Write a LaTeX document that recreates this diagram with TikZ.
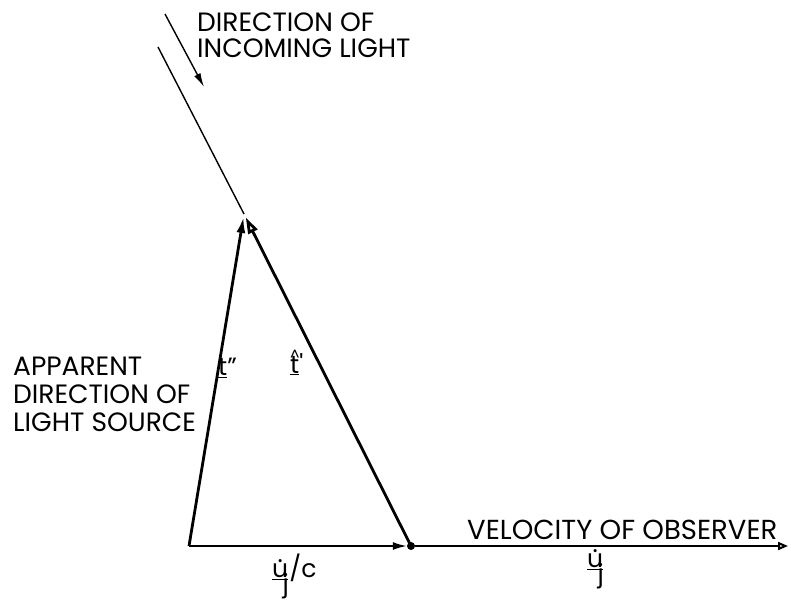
\documentclass[tikz,border=0pt]{standalone}
\usepackage{fontspec}
\setmainfont{Poppins}
\usetikzlibrary{arrows.meta}
\newcommand{\mydotu}{\ooalign{u\cr\hidewidth\raisebox{0.62em}{.}\hidewidth\cr}}
\newcommand{\myhatt}{\ooalign{t\cr\hidewidth\raisebox{0.5em}{\fontsize{15}{15}\selectfont\textasciicircum}\hidewidth\cr}}
\newcommand{\myuj}{\underline{\mydotu}\hspace{-0.22em}\raisebox{-0.6em}{j}}
\begin{document}
\begin{tikzpicture}[x=1pt,y=-1pt,
  lab/.style={font=\fontsize{26.5}{26}\selectfont, align=left, inner sep=0pt},
  vlab/.style={font=\fontsize{25}{25}\selectfont, inner sep=0pt},
  thinline/.style={line width=1.4pt},
  vecline/.style={line width=2.8pt},
  fillhead/.style={-{Latex[length=16pt,width=9pt]}},
  openhead/.style={-{Triangle[open,length=16pt,width=10pt]}}
]
\useasboundingbox (0,0) rectangle (791,603);
% points
\coordinate (src) at (158,47);
\coordinate (A) at (244,214);
\coordinate (O) at (189,546);
\node[circle, fill=black, inner sep=0pt, minimum size=8pt] (P) at (411,546) {};
\coordinate (E) at (788,546);
\coordinate (inS) at (165,14);
\coordinate (inE) at (204,87);
% incoming light line and direction arrow
\draw[thinline] (src) -- (A);
\draw[thinline, -{Latex[length=14pt,width=7pt]}] (inS) -- (inE);
% vectors
\draw[vecline, fillhead, shorten >=3pt] (O) -- (A);
\draw[vecline, openhead, shorten >=4pt] (P.center) -- (A);
\draw[line width=1.8pt, -{Latex[length=14pt,width=8pt]}] (O) -- (P);
\draw[line width=2pt, -{Triangle[open,length=10pt,width=8pt]}] (P) -- (E);
% labels
\node[lab, anchor=north west, font=\fontsize{26.5}{25.5}\selectfont] (incoming) at (197,13) {DIRECTION OF\\INCOMING LIGHT};
\node[lab, anchor=north west, font=\fontsize{26.5}{28}\selectfont] (apparent) at (13,357) {APPARENT\\DIRECTION OF\\LIGHT SOURCE};
\node[lab, anchor=south west, font=\fontsize{27.5}{27}\selectfont] (velocity) at (467,540) {VELOCITY OF OBSERVER};
\node[vlab, anchor=north west] (tpp) at (218,358) {\underline{t}"};
\node[vlab, anchor=north west] (tp) at (290,353) {\underline{\myhatt}\textquotesingle};
\node[vlab, anchor=north west] (ujc) at (272,554) {\myuj\hspace{0.02em}/c};
\node[vlab, anchor=north west] (uj) at (587,554) {\myuj};
\end{tikzpicture}
\end{document}
